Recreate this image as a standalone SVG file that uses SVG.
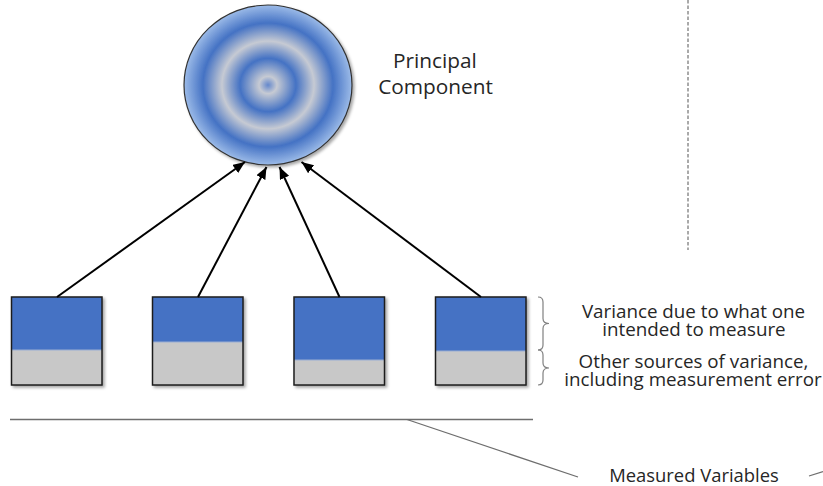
<svg xmlns="http://www.w3.org/2000/svg" width="823" height="486" viewBox="0 0 823 486">
  <style>
    .txt { font-family: "Open Sans", "Noto Sans", sans-serif; fill: #262626; text-anchor: middle; }
    .pc { font-size: 20.8px; }
    .lbl { font-size: 18.8px; }
    .mv { font-size: 18.4px; }
    .blue { fill: #4472C4; }
    .grey { fill: #C8C8C8; }
    .frame { fill: none; stroke: #1e1e1e; stroke-width: 1.5; }
    .split { stroke: #9aaed3; stroke-width: 1; }
    .arrow { stroke: #000; stroke-width: 2; fill: none; marker-end: url(#ah); }
    .brace { fill: none; stroke: #808080; stroke-width: 1.2; }
    .guide { stroke: #6e6e6e; stroke-width: 1.3; fill: none; }
    .dash { stroke: #555; stroke-width: 1; stroke-dasharray: 3.5 2; }
  </style>
  <defs>
    <radialGradient id="rings" cx="0.5" cy="0.5" r="0.5">
      <stop offset="0" stop-color="#6488cc"/>
      <stop offset="0.107" stop-color="#c6cad3"/>
      <stop offset="0.333" stop-color="#4472C4"/>
      <stop offset="0.548" stop-color="#c6cad3"/>
      <stop offset="0.774" stop-color="#4472C4"/>
      <stop offset="1" stop-color="#9cbbe8"/>
    </radialGradient>
    <filter id="shadow" x="-10%" y="-10%" width="125%" height="125%">
      <feDropShadow dx="2" dy="2" stdDeviation="1.5" flood-color="#000" flood-opacity="0.35"/>
    </filter>
    <marker id="ah" markerUnits="userSpaceOnUse" markerWidth="13" markerHeight="11" refX="12" refY="5" orient="auto">
      <path d="M0,0 L12,5 L0,10 Z" fill="#000"/>
    </marker>
  </defs>

  <!-- dashed divider -->
  <line class="dash" x1="688" y1="0" x2="688" y2="250"/>

  <!-- Principal component node -->
  <g id="principal-component">
    <ellipse cx="268" cy="85" rx="84" ry="80" fill="url(#rings)" stroke="#333" stroke-width="1.2" filter="url(#shadow)"/>
    <text class="txt pc" x="435" y="68">Principal</text>
    <text class="txt pc" x="435.5" y="94">Component</text>
  </g>

  <!-- Measured variable nodes -->
  <g id="mv1" filter="url(#shadow)">
    <rect class="blue" x="11.5" y="297" width="90.5" height="53"/>
    <rect class="grey" x="11.5" y="350" width="90.5" height="35"/>
    <line class="split" x1="11.5" y1="350" x2="102" y2="350"/>
    <rect class="frame" x="11.5" y="297" width="90.5" height="88"/>
  </g>
  <g id="mv2" filter="url(#shadow)">
    <rect class="blue" x="152.5" y="297" width="90.5" height="45"/>
    <rect class="grey" x="152.5" y="342" width="90.5" height="43"/>
    <line class="split" x1="152.5" y1="342" x2="243" y2="342"/>
    <rect class="frame" x="152.5" y="297" width="90.5" height="88"/>
  </g>
  <g id="mv3" filter="url(#shadow)">
    <rect class="blue" x="294" y="297" width="90.5" height="63"/>
    <rect class="grey" x="294" y="360" width="90.5" height="25"/>
    <line class="split" x1="294" y1="360" x2="384.5" y2="360"/>
    <rect class="frame" x="294" y="297" width="90.5" height="88"/>
  </g>
  <g id="mv4" filter="url(#shadow)">
    <rect class="blue" x="435.5" y="297" width="90.5" height="54"/>
    <rect class="grey" x="435.5" y="351" width="90.5" height="34"/>
    <line class="split" x1="435.5" y1="351" x2="526" y2="351"/>
    <rect class="frame" x="435.5" y="297" width="90.5" height="88"/>
  </g>

  <!-- connectors -->
  <g id="connectors">
    <line class="arrow" x1="57" y1="297" x2="245" y2="162"/>
    <line class="arrow" x1="198" y1="297" x2="266.5" y2="167"/>
    <line class="arrow" x1="339.5" y1="297" x2="279.5" y2="167"/>
    <line class="arrow" x1="481" y1="297" x2="301.5" y2="162"/>
  </g>

  <!-- braces and annotations -->
  <g id="variance-annotation">
    <path class="brace" d="M538,297 Q543,297 543,302 L543,318.5 Q543,323.5 549,323.5 Q543,323.5 543,328.5 L543,345 Q543,350 538,350"/>
    <path class="brace" d="M538,350 Q543,350 543,355 L543,363 Q543,368 549,368 Q543,368 543,373 L543,380 Q543,385 538,385"/>
    <text class="txt lbl" x="693.5" y="318">Variance due to what one</text>
    <text class="txt lbl" x="694" y="336">intended to measure</text>
    <text class="txt lbl" x="693.5" y="368">Other sources of variance,</text>
    <text class="txt lbl" x="693" y="386">including measurement error</text>
  </g>

  <g id="measured-variables-label">
    <line class="guide" x1="10" y1="419.5" x2="533" y2="419.5"/>
    <line class="guide" x1="407" y1="419.5" x2="578" y2="477"/>
    <line class="guide" x1="809" y1="476" x2="823" y2="471.5"/>
    <text class="txt mv" x="694" y="482">Measured Variables</text>
  </g>
</svg>
